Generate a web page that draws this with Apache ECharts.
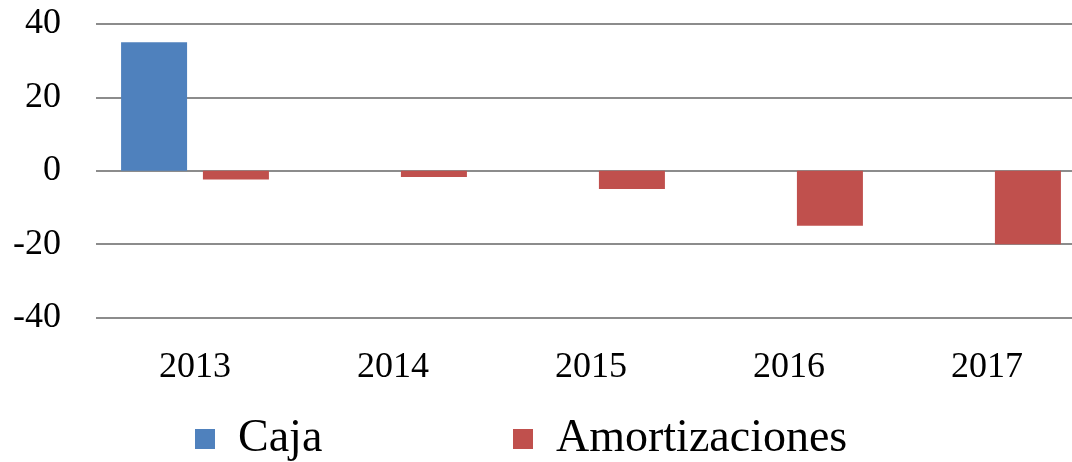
<!DOCTYPE html>
<html>
<head>
<meta charset="utf-8">
<script src="https://cdn.jsdelivr.net/npm/echarts@6/dist/echarts.min.js"></script>
<style>
  html, body { margin: 0; padding: 0; background: #fff; overflow: hidden; width: 1072px; height: 462px; }
  #chart { width: 1086px; height: 462px; }
</style>
</head>
<body>
<div id="chart"></div>
<script>
var years = ['2013', '2014', '2015', '2016', '2017'];
var caja = [35, 0, 0, 0, 0];
var amortizaciones = [-2.4, -1.7, -5, -15, -20];
var yTicks = { min: -40, max: 40, interval: 20 };

var font = '"Liberation Serif", "DejaVu Serif", serif';
var legendText = { fontFamily: font, fontSize: 46, color: '#000', padding: [0, 0, 0, 18] };
var chart = echarts.init(document.getElementById('chart'));
var option = {
    animation: false,
    grid: {
        left: 96,
        right: 0,
        top: 24,
        bottom: 144.5
    },
    legend: [
        {
            data: ['Caja'],
            top: 411,
            left: 190,
            icon: 'rect',
            itemWidth: 20,
            itemHeight: 20,
            textStyle: legendText
        },
        {
            data: ['Amortizaciones'],
            top: 411,
            left: 508,
            icon: 'rect',
            itemWidth: 20,
            itemHeight: 20,
            textStyle: legendText
        }
    ],
    xAxis: {
        type: 'category',
        data: years,
        axisLine: { show: false },
        axisTick: { show: false },
        axisLabel: { fontFamily: font, fontSize: 36, color: '#000', margin: 32 }
    },
    yAxis: {
        type: 'value',
        min: yTicks.min,
        max: yTicks.max,
        interval: yTicks.interval,
        axisLine: { show: false },
        axisTick: { show: false },
        splitLine: { lineStyle: { color: '#8c8c8c', width: 2 } },
        axisLabel: { fontFamily: font, fontSize: 36, color: '#000', margin: 35 }
    },
    series: [
        {
            name: 'Caja',
            type: 'bar',
            data: caja,
            barWidth: 66,
            barGap: '24%',
            itemStyle: { color: '#4f81bd' }
        },
        {
            name: 'Amortizaciones',
            type: 'bar',
            data: amortizaciones,
            barWidth: 66,
            itemStyle: { color: '#c0504d' }
        }
    ]
};
chart.setOption(option);
</script>
</body>
</html>
